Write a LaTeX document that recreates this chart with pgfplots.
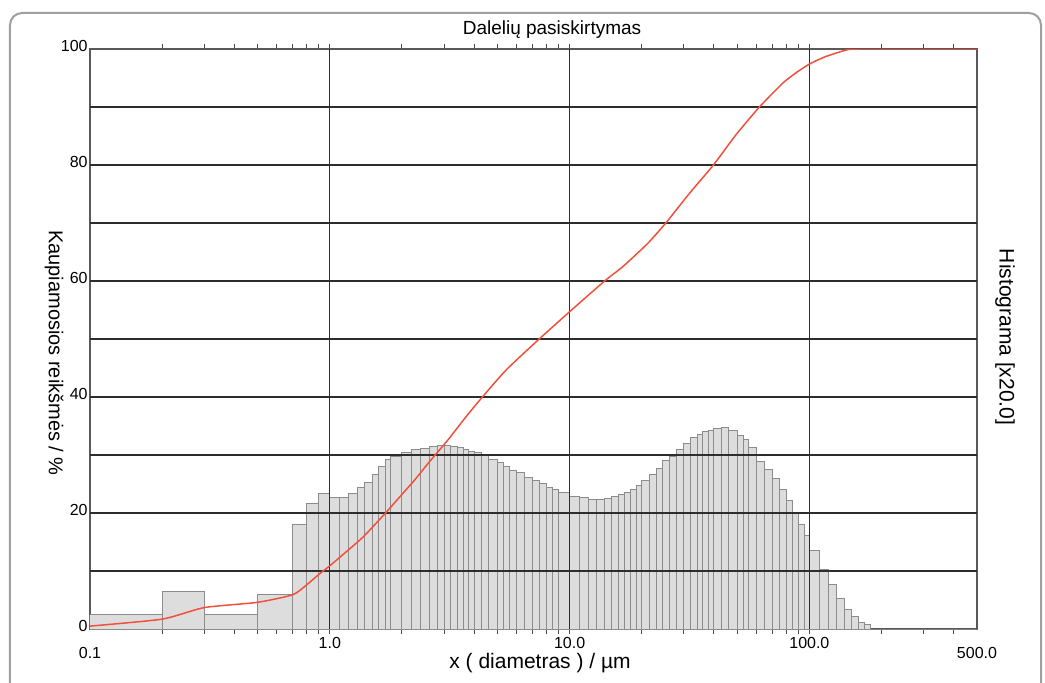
\documentclass[border=0pt]{standalone}
\usepackage{fontspec}
\setmainfont{Liberation Sans}
\usepackage{pgfplots}
\usepackage{pgfplotstable}
\pgfplotsset{compat=1.18}

\definecolor{barfill}{RGB}{221,221,221}
\definecolor{baredge}{RGB}{140,140,140}
\definecolor{cumred}{RGB}{240,80,60}
\definecolor{gridc}{RGB}{45,45,45}

% histogram: left edge of class, height (last row closes the final class)
\pgfplotstableread{
x h
0.1 2.5
0.2 6.5
0.3 2.5
0.5 6.0
0.7 18.1
0.8 21.7
0.9 23.3
1.0 22.7
1.1 22.7
1.2 23.3
1.3 24.4
1.4 25.3
1.5 26.7
1.6 28.1
1.7 29.3
1.8 29.8
2.0 30.4
2.2 30.9
2.4 31.2
2.6 31.4
2.8 31.6
3.0 31.6
3.2 31.4
3.4 31.3
3.6 31.0
3.8 30.6
4.0 30.4
4.3 30.1
4.6 29.3
5.0 28.7
5.3 28.0
5.6 27.4
6.0 27.0
6.5 26.2
7.0 25.6
7.5 25.1
8.0 24.4
8.5 24.1
9.0 23.6
10 22.9
11 22.7
12 22.3
13 22.3
14 22.5
15 22.8
16 23.2
17 23.6
18 24.1
19 24.7
20 25.6
21.5 26.6
23 27.7
24.5 29.0
26 29.8
28 31.0
30 31.9
32 33.0
34 33.6
36 34.0
38 34.2
40 34.5
43 34.8
46 34.2
50 33.4
53 32.7
56 31.3
60 28.8
65 27.5
70 25.9
75 24.1
80 22.1
85 20.1
90 18.1
95 16.2
100 13.6
110 10.3
120 7.7
130 5.3
140 3.4
150 2.2
160 1.2
170 0.7
180 0
500 0
}\histo

% cumulative curve
\pgfplotstableread{
x c
0.1 0.5
0.2 1.7
0.3 3.7
0.5 4.6
0.7 5.9
0.8 7.6
0.9 9.4
1.0 10.9
1.17 13.3
1.38 15.9
1.70 19.9
1.96 22.8
2.26 25.7
2.6 28.8
3.11 32.6
3.7 36.6
4.35 40.1
5.45 44.7
7.38 49.8
10.0 54.7
14.0 60.0
16.7 62.5
21.2 66.5
25.2 70.0
31.6 75.1
39.8 80.0
49.4 85.2
61.9 90.0
77.4 94.1
88 95.9
100 97.4
117 98.7
142 99.8
162 100
500 100
}\cumul

\begin{document}
\begin{tikzpicture}
\useasboundingbox (-45pt,-26.5pt) rectangle (477.5pt,314.5pt);
\draw[gray!75, line width=1pt, rounded corners=6pt] (-40pt,-45pt) rectangle (475.5pt,308pt);
\begin{axis}[
  at={(0pt,0pt)}, anchor=south west,
  scale only axis, width=443.5pt, height=290pt,
  xmode=log, xmin=0.1, xmax=500, ymin=0, ymax=100,
  xtick={1,10,100}, xticklabels={1.0,10.0,100.0},
  minor xtick={0.2,0.3,0.4,0.5,0.6,0.7,0.8,0.9,2,3,4,5,6,7,8,9,20,30,40,50,60,70,80,90,200,300,400},
  extra x ticks={0.1,500}, extra x tick labels={0.1,500.0},
  extra x tick style={xticklabel style={yshift=-7.5pt}, major tick length=0pt},
  ytick={0,20,...,100},
  ytick style={draw=none},
  yticklabel style={anchor=east, inner sep=1pt, xshift=2.5pt, yshift=1.5pt},
  xticklabel style={inner sep=1.5pt},
  tick label style={font=\fontsize{8}{9}\selectfont},
  /pgf/number format/assume math mode=true,
  tick align=outside, major tick length=2.5pt, minor tick length=2.5pt,
  tick style={black!70, line width=0.5pt},
  axis line style={black!65, line width=0.6pt},
]
\addplot[ybar interval, fill=barfill, draw=baredge, line width=0.5pt] table[x=x, y=h] {\histo};
% grid drawn over the bars, under the curve
\draw[gridc, line width=0.55pt] (axis cs:0.1,10) -- (axis cs:500,10);
\draw[gridc, line width=0.55pt] (axis cs:0.1,20) -- (axis cs:500,20);
\draw[gridc, line width=0.55pt] (axis cs:0.1,30) -- (axis cs:500,30);
\draw[gridc, line width=0.55pt] (axis cs:0.1,40) -- (axis cs:500,40);
\draw[gridc, line width=0.55pt] (axis cs:0.1,50) -- (axis cs:500,50);
\draw[gridc, line width=0.55pt] (axis cs:0.1,60) -- (axis cs:500,60);
\draw[gridc, line width=0.55pt] (axis cs:0.1,70) -- (axis cs:500,70);
\draw[gridc, line width=0.55pt] (axis cs:0.1,80) -- (axis cs:500,80);
\draw[gridc, line width=0.55pt] (axis cs:0.1,90) -- (axis cs:500,90);
\draw[gridc, line width=0.55pt] (axis cs:1,0) -- (axis cs:1,100);
\draw[gridc, line width=0.55pt] (axis cs:10,0) -- (axis cs:10,100);
\draw[gridc, line width=0.55pt] (axis cs:100,0) -- (axis cs:100,100);
\addplot[cumred, line width=0.75pt, mark=none, smooth, tension=0.35] table[x=x, y=c] {\cumul};
\end{axis}
\node[font=\fontsize{9.5}{11}\selectfont] at (231pt,299.5pt) {Dalelių pasiskirtymas};
\node[font=\fontsize{10.5}{12}\selectfont] at (225pt,-17pt) {x ( diametras ) / µm};
\node[font=\fontsize{10}{12}\selectfont, rotate=-90] at (-18pt,138pt) {Kaupiamosios reikšmės / \%};
\node[font=\fontsize{10.5}{12}\selectfont, rotate=-90] at (457.5pt,146pt) {Histograma [x20.0]};
\end{tikzpicture}
\end{document}
